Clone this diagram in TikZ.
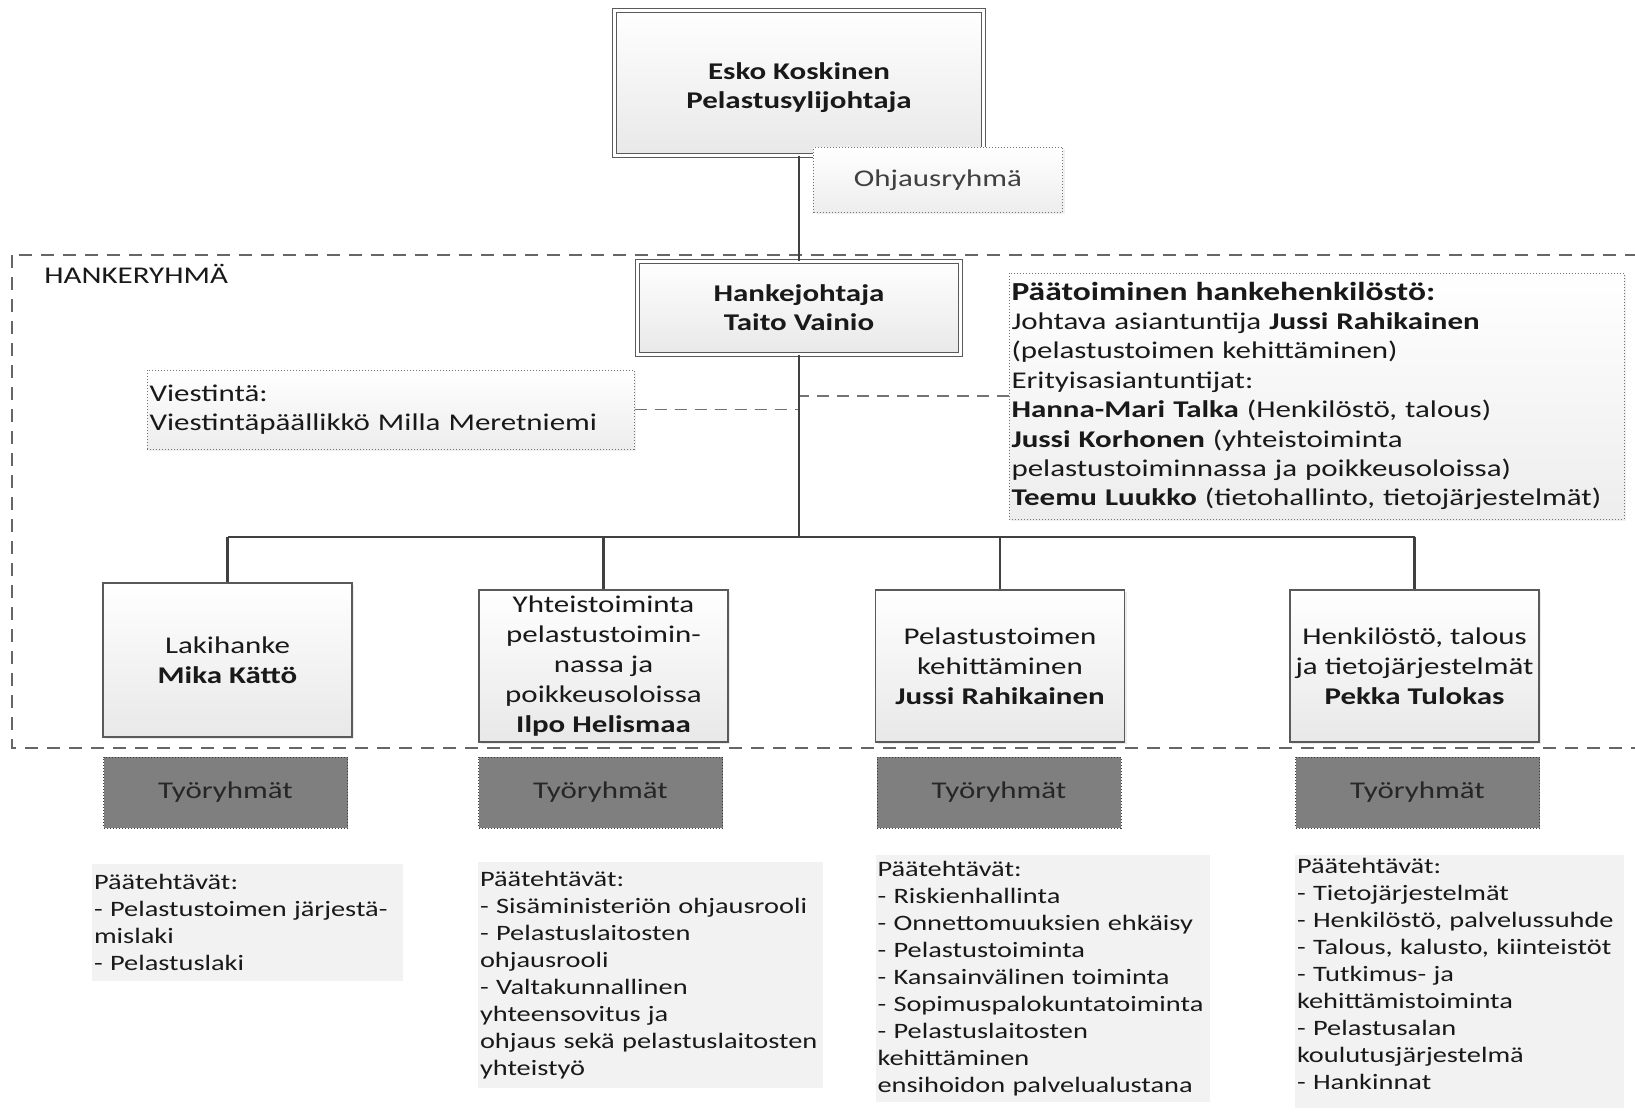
\documentclass[tikz,border=0pt]{standalone}
\usepackage{fontspec}
\setmainfont{Carlito}[FakeStretch=1.29]
\usepackage{xcolor}
\usepackage{tikz}
\usetikzlibrary{calc, positioning, shadows}
\hyphenpenalty=10000
\exhyphenpenalty=10000
\definecolor{linegray}{HTML}{404040}
\definecolor{boxgray}{HTML}{5A5A5A}
\definecolor{groupgray}{HTML}{7F7F7F}
\definecolor{taskgray}{HTML}{F2F2F2}
\tikzset{
    bossnode/.style = {draw=boxgray, double, double distance=1.6pt, line width=0.45pt, rectangle,
      top color=white, bottom color=black!9, align=center, node distance=0em, text=black!90,
      font=\fontsize{12}{14.5}\selectfont\bfseries,
      drop shadow={shadow xshift=1pt, shadow yshift=-1pt, opacity=0.15}},
    unitnode/.style = {draw=boxgray, line width=0.7pt, rectangle, top color=white, bottom color=black!9,
      minimum width=124.5pt, minimum height=76pt, inner sep=0pt, align=center, node distance=0em,
      text=black!90, font=\fontsize{12}{15}\selectfont,
      drop shadow={shadow xshift=1pt, shadow yshift=-1pt, opacity=0.15}},
    notenode/.style = {draw=black!55, densely dotted, line width=0.5pt, rectangle, top color=white,
      bottom color=black!7, node distance=0em, text=black!90, font=\fontsize{12}{14.4}\selectfont,
      drop shadow={shadow xshift=1pt, shadow yshift=-1pt, opacity=0.12}},
    groupnode/.style = {draw=black!75, densely dotted, line width=0.5pt, rectangle, fill=groupgray,
      minimum width=122pt, minimum height=35.5pt, node distance=0em, text=black!85,
      font=\fontsize{12}{14.4}\selectfont},
    tasknode/.style = {rectangle, fill=taskgray, align=left, inner xsep=1pt, inner ysep=1.5pt,
      node distance=0em, text=black!90, font=\fontsize{11}{13.5}\selectfont},
    textnode/.style = {draw=none, fill=none, rectangle, inner sep=0em, text=black!90,
      font=\fontsize{12}{14.4}\selectfont},
    connect/.style = {draw=linegray, line width=1.1pt, -},
    dashconnect/.style = {draw=black!55, line width=0.6pt, dash pattern=on 6pt off 4pt},
    groupframe/.style = {draw=black!60, line width=0.75pt, dash pattern=on 6.5pt off 4.5pt}
}

\begin{document}
\begin{tikzpicture}[x=1pt, y=1pt]
    \useasboundingbox (0,0) rectangle (817.5,-556.5);

    % hankeryhma area
    \draw [groupframe] (6,-127.5) rectangle (826,-374);
    \node [textnode, name=Hankeryhma, anchor=west] at (22,-137) {HANKERYHMÄ};

    \node [bossnode, name=Esko, minimum width=184.5pt, minimum height=72.5pt] at (399.5,-41.5)
        {\rule{0pt}{13pt}Esko Koskinen\\Pelastusylijohtaja};
    \node [bossnode, name=Hanke, below of=Esko, yshift=-112.5pt, minimum width=161.5pt, minimum height=46.5pt]
        {Hankejohtaja\\Taito Vainio};
    \draw [connect] (Esko) edge[-] (Hanke);
    \node [notenode, name=Ohjaus, below of=Esko, xshift=69.5pt, yshift=-48.5pt,
        minimum width=124.5pt, minimum height=32.5pt, text=black!75] {Ohjausryhmä};

    \node [notenode, name=Paatoiminen, right of=Hanke, xshift=258.75pt, yshift=-44pt, align=left,
        text width=305pt, inner xsep=1.25pt, minimum height=123pt, font=\fontsize{12}{14.7}\selectfont]
        {{\fontsize{13}{14.7}\selectfont\bfseries Päätoiminen hankehenkilöstö:}\\
        Johtava asiantuntija \textbf{Jussi Rahikainen}\\
        (pelastustoimen kehittäminen)\\
        Erityisasiantuntijat:\\
        \textbf{Hanna-Mari Talka} (Henkilöstö, talous)\\
        \textbf{Jussi Korhonen} (yhteistoiminta\\
        pelastustoiminnassa ja poikkeusoloissa)\\
        \textbf{Teemu Luukko} (tietohallinto, tietojärjestelmät)};
    \node [notenode, name=Viestinta, left of=Hanke, xshift=-204.25pt, yshift=-50.75pt, align=left,
        text width=241pt, inner xsep=1.25pt, minimum height=39.5pt]
        {Viestintä:\\Viestintäpäällikkö Milla Meretniemi};
    \draw [dashconnect] (Viestinta.east) -- (Viestinta.east -| Hanke.south);
    \draw [dashconnect] (Paatoiminen.west) -- (Paatoiminen.west -| Hanke.south);

    % osahankkeet
    \coordinate [below of=Hanke, node distance=0em, yshift=-114.5pt] (bar);
    \node [unitnode, name=Lakihanke, below of=Hanke, xshift=-285.75pt, yshift=-176pt, minimum height=77pt]
        {Lakihanke\\\textbf{Mika Kättö}};
    \node [unitnode, name=Yhteis, below of=Hanke, xshift=-97.75pt, yshift=-179pt]
        {Yhteistoiminta\\pelastustoimin-\\nassa ja\\poikkeusoloissa\\\textbf{Ilpo Helismaa}};
    \node [unitnode, name=Pelastus, below of=Hanke, xshift=100.5pt, yshift=-179pt]
        {Pelastustoimen\\kehittäminen\\\textbf{Jussi Rahikainen}};
    \node [unitnode, name=Henkilosto, below of=Hanke, xshift=307.75pt, yshift=-179pt]
        {Henkilöstö, talous\\ja tietojärjestelmät\\\textbf{Pekka Tulokas}};
    \draw [connect] (Hanke) -- (bar);
    \draw [connect] (bar -| Lakihanke.north) -- (bar -| Henkilosto.north);
    \draw [connect] (bar -| Lakihanke.north) edge[-] (Lakihanke.north);
    \draw [connect] (bar -| Yhteis.north) edge[-] (Yhteis.north);
    \draw [connect] (bar -| Pelastus.north) edge[-] (Pelastus.north);
    \draw [connect] (bar -| Henkilosto.north) edge[-] (Henkilosto.north);

    % tyoryhmat
    \node [groupnode, name=Tyo1, below of=Lakihanke, xshift=-1pt, yshift=-66.25pt] {Työryhmät};
    \node [groupnode, name=Tyo2, below of=Yhteis, xshift=-1.5pt, yshift=-63.25pt] {Työryhmät};
    \node [groupnode, name=Tyo3, below of=Pelastus, xshift=-0.5pt, yshift=-63.25pt] {Työryhmät};
    \node [groupnode, name=Tyo4, below of=Henkilosto, xshift=1.5pt, yshift=-63.25pt] {Työryhmät};

    % paatehtavat
    \node [tasknode, name=Tehtavat1, below of=Tyo1, anchor=north, xshift=11pt, yshift=-35.75pt,
        text width=153.5pt, inner ysep=5pt]
        {Päätehtävät:\\- Pelastustoimen järjestä-\\mislaki\\- Pelastuslaki};
    \node [tasknode, name=Tehtavat2, below of=Tyo2, anchor=north, xshift=25pt, yshift=-34.75pt,
        text width=170.5pt, inner ysep=4.5pt]
        {Päätehtävät:\\- Sisäministeriön ohjausrooli\\- Pelastuslaitosten\\ohjausrooli\\- Valtakunnallinen\\yhteensovitus ja\\ohjaus sekä pelastuslaitosten\\yhteistyö};
    \node [tasknode, name=Tehtavat3, below of=Tyo3, anchor=north, xshift=21.75pt, yshift=-31.25pt,
        text width=165pt, inner ysep=3pt]
        {Päätehtävät:\\- Riskienhallinta\\- Onnettomuuksien ehkäisy\\- Pelastustoiminta\\- Kansainvälinen toiminta\\- Sopimuspalokuntatoiminta\\- Pelastuslaitosten\\kehittäminen\\ensihoidon palvelualustana};
    \node [tasknode, name=Tehtavat4, below of=Tyo4, anchor=north, xshift=21pt, yshift=-31.25pt, text width=162.5pt]
        {Päätehtävät:\\- Tietojärjestelmät\\- Henkilöstö, palvelussuhde\\- Talous, kalusto, kiinteistöt\\- Tutkimus- ja\\kehittämistoiminta\\- Pelastusalan\\koulutusjärjestelmä\\- Hankinnat\\[-6pt]~};
\end{tikzpicture}
\end{document}
